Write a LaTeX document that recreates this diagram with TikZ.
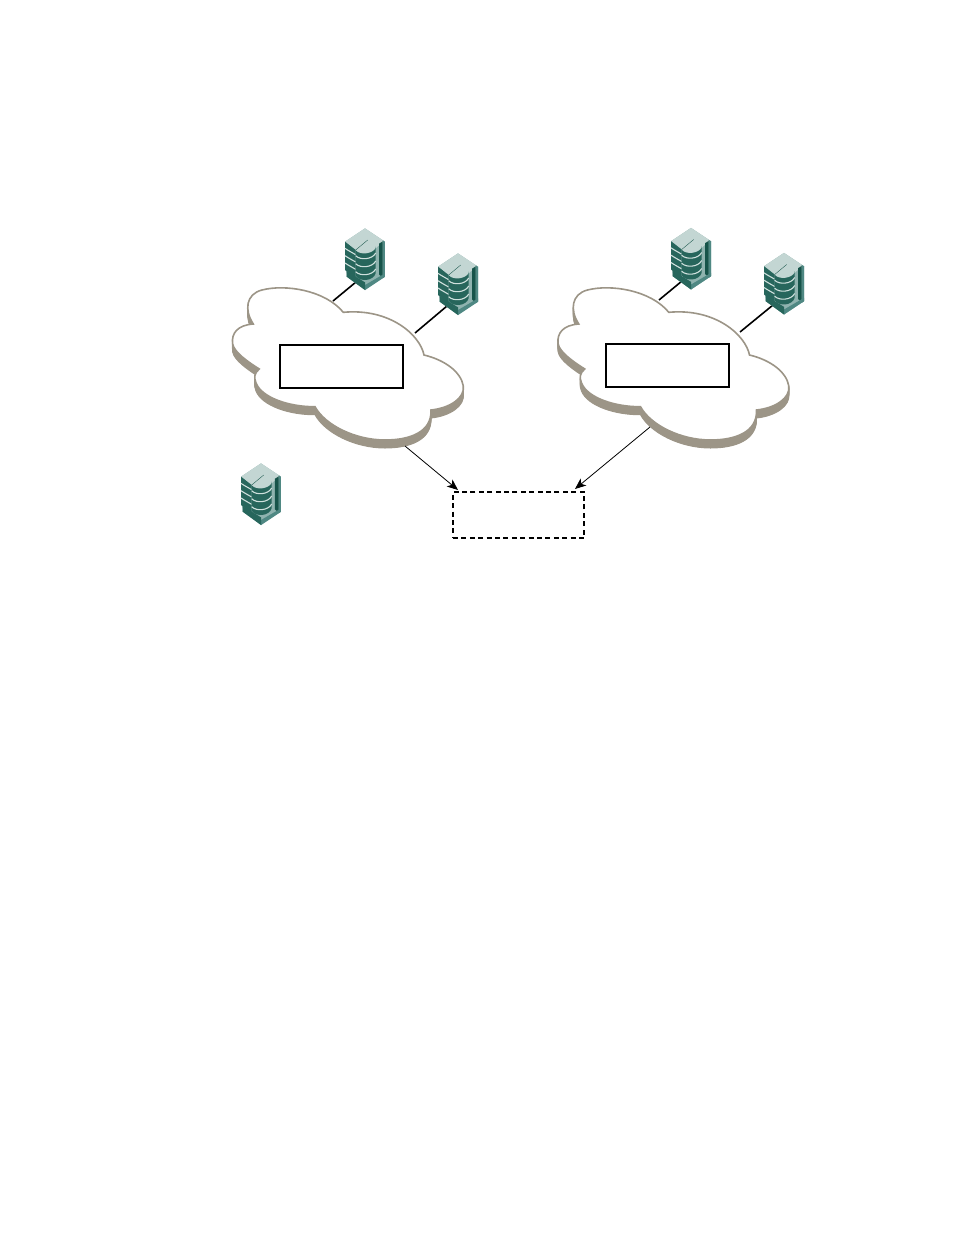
\documentclass[tikz,border=0pt]{standalone}
\usetikzlibrary{arrows.meta}
\definecolor{cloudedge}{HTML}{9C9587}
\definecolor{srvlight}{HTML}{C3D6D3}
\definecolor{srvdark}{HTML}{27665C}
\definecolor{srvdeep}{HTML}{17544A}
\definecolor{srvmid}{HTML}{4F8883}
\definecolor{srvsoft}{HTML}{8FB3AF}
\definecolor{srvstripe}{HTML}{CFE0DD}
\tikzset{
  netbox/.style={draw=black,line width=1.7pt,fill=white,inner sep=0pt,outer sep=0pt,anchor=north west},
  dashbox/.style={draw=black,line width=1.6pt,dash pattern=on 5pt off 3.4pt,inner sep=0pt,outer sep=0pt,anchor=north west},
  link/.style={draw=black,line width=1.6pt},
  flow/.style={draw=black,line width=.8pt,-{Stealth[length=11pt,width=9pt,inset=3pt]}},
  cloudtop/.style={draw=cloudedge,line width=1.6pt,fill=white},
  cloudside/.style={draw=cloudedge,line width=1pt,fill=cloudedge},
  srvstr/.style={draw=srvstripe,line width=1.1pt}
}
\newcommand{\cloudpath}{
  (343.3,312.3)
  .. controls (325,290) and (285,284) .. (262,290)
  .. controls (246,294) and (244,310) .. (253.3,324)
  .. controls (238,325) and (231,333) .. (232.7,344)
  .. controls (234,352) and (248,362) .. (259.3,369)
  .. controls (254,373) and (254,378) .. (256,383)
  .. controls (262,398) and (290,407) .. (315,406.7)
  .. controls (325,425) and (355,440) .. (385,440)
  .. controls (410,440) and (432,432) .. (431,410)
  .. controls (450,408) and (465,398) .. (463.3,386)
  .. controls (461,372) and (445,360) .. (424,355)
  .. controls (420,335) and (390,308) .. (343.3,312.3) -- cycle
}
\newcommand{\drawcloud}[2]{
  \begin{scope}[shift={(#1,#2)}]
    \foreach \s in {1,2,...,8}{\path[cloudside,yshift=-\s pt] \cloudpath;}
    \path[cloudtop] \cloudpath;
  \end{scope}
}
\newcommand{\drawserver}[2]{
  \begin{scope}[shift={(#1,#2)},x=.3333pt,y=-.3333pt]
    % shell
    \fill[srvsoft] (0,0) -- (60,-40) -- (120,0) -- (120,105) -- (60,145) -- (5,105) -- cycle;
    \fill[srvlight] (0,0) -- (60,-40) -- (120,0) -- (105,8) -- (92,20) -- (32,25) -- cycle;
    \fill[srvmid] (113,-4) -- (120,0) -- (120,105) -- (113,110) -- cycle;
    \fill[srvdeep] (102,6) -- (113,-1) -- (113,108) -- (102,98) -- cycle;
    \fill[srvmid] (60,145) -- (120,105) -- (120,95) -- (60,130) -- cycle;
    \fill[srvdark] (5,105) -- (60,145) -- (60,122) -- (5,88) -- cycle;
    % left stack
    \fill[srvdark] (0,0) -- (32,25) -- (32,108) -- (0,85) -- cycle;
    \foreach \d in {20,42,64}{
      \path[srvstr] (0,\d) .. controls (12,\d+8) and (24,\d+14) .. (32,\d+19);
    }
    % cylinder
    \fill[srvdark] (32,25) -- (32,102) .. controls (45,122) and (85,118) .. (92,95) -- (92,15) -- cycle;
    \foreach \d in {42,66,90}{
      \path[srvstr] (32,\d) .. controls (45,\d+14) and (82,\d+12) .. (92,\d-8);
    }
    \fill[srvlight] (32,25) -- (68,-5) .. controls (85,-3) and (93,8) .. (92,18) .. controls (85,36) and (45,42) .. (32,25) -- cycle;
    \draw[srvdeep,line width=.35pt] (32,25) -- (68,-5);
  \end{scope}
}
\begin{document}
\begin{tikzpicture}[x=1pt,y=-1pt]
\useasboundingbox (0,0) rectangle (954,1235);
\coordinate (c1a) at (333,301);
\coordinate (s1a) at (356,282);
\coordinate (c1b) at (415,333);
\coordinate (s1b) at (447,306);
\coordinate (c2a) at (659,300);
\coordinate (s2a) at (682,281);
\coordinate (c2b) at (740,332);
\coordinate (s2b) at (773,305);
\coordinate (c1out) at (405,446);
\coordinate (c2out) at (650,427);
\coordinate (t1) at (458,490);
\coordinate (t2) at (575,489);
\path[link] (c1a) -- (s1a);
\path[link] (c1b) -- (s1b);
\path[link] (c2a) -- (s2a);
\path[link] (c2b) -- (s2b);
\drawcloud{0}{0}
\drawcloud{325.5}{0}
\drawserver{345}{241.7}
\drawserver{438}{266.7}
\drawserver{671}{241.2}
\drawserver{764}{266.2}
\drawserver{241}{476.7}
\node[netbox,minimum width=123pt,minimum height=43pt] (box1) at (280,345) {};
\node[netbox,minimum width=123pt,minimum height=43pt] (box2) at (606,344) {};
\node[dashbox,minimum width=131pt,minimum height=46pt] (target) at (453,492) {};
\draw[flow] (c1out) -- (t1);
\draw[flow] (c2out) -- (t2);
\end{tikzpicture}
\end{document}
